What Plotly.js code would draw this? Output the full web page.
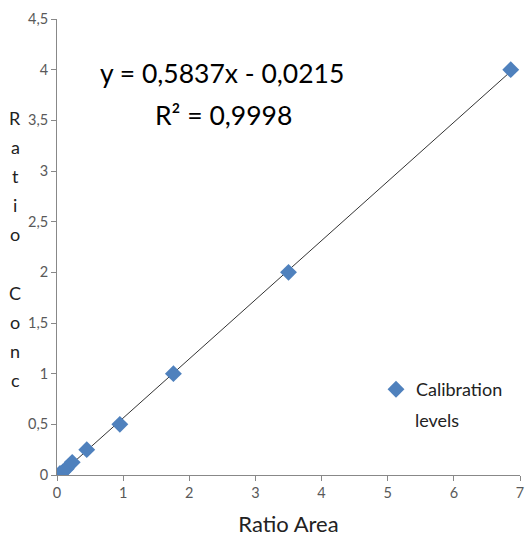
<!DOCTYPE html>
<html><head><meta charset="utf-8">
<script src="https://cdn.plot.ly/plotly-3.0.1.min.js"></script>
<style>html,body{margin:0;padding:0;background:#fff;}</style>
</head><body>
<div id="chart" style="width:525px;height:541px;"></div>
<script>
const ratioArea = [0.045, 0.09, 0.14, 0.23, 0.45, 0.95, 1.76, 3.50, 6.86];
const ratioConc = [0.0156, 0.03125, 0.0625, 0.125, 0.25, 0.5, 1, 2, 4];
const slope = 0.5837;
const intercept = -0.0215;
const trendX = [0.04, 6.92];
const trendY = trendX.map(x => slope * x + intercept);
const xTicks = [0, 1, 2, 3, 4, 5, 6, 7];
const yTicks = [0, 0.5, 1, 1.5, 2, 2.5, 3, 3.5, 4, 4.5];
const yTickText = ['0', '0,5', '1', '1,5', '2', '2,5', '3', '3,5', '4', '4,5'];
const yTitleLetters = ['R', 'a', 't', 'i', 'o', '', 'C', 'o', 'n', 'c'];
const equationText = 'y = 0,5837x - 0,0215';
const r2Text = 'R² = 0,9998';
const seriesName = 'Calibration';
const seriesName2 = 'levels';
const font = 'Lato, "Open Sans", sans-serif';

// plot area geometry (pixels)
const L = 57, T = 19, PW = 463, PH = 456;
const px = v => (v - L) / PW;
const py = v => (T + PH - v) / PH;

const traces = [
  {x: trendX, y: trendY, mode: 'lines', line: {color: '#333333', width: 1}, showlegend: false, hoverinfo: 'skip'},
  {x: ratioArea, y: ratioConc, mode: 'markers', name: seriesName,
   marker: {symbol: 'diamond', size: 13, color: '#4F81BD', line: {width: 0}}}
];

const annotations = [
  {xref: 'paper', yref: 'paper', x: px(222), y: py(73), text: equationText, showarrow: false,
   font: {size: 26.5, color: '#000', family: font}, xanchor: 'center', yanchor: 'middle'},
  {xref: 'paper', yref: 'paper', x: px(223), y: py(115), text: r2Text, showarrow: false,
   font: {size: 26.5, color: '#000', family: font}, xanchor: 'center', yanchor: 'middle'},
  {xref: 'paper', yref: 'paper', x: px(413), y: py(420), text: seriesName2, showarrow: false,
   font: {size: 18, color: '#222', family: font}, xanchor: 'left', yanchor: 'middle'}
];
yTitleLetters.forEach((ch, i) => {
  if (!ch) return;
  annotations.push({xref: 'paper', yref: 'paper', x: px(15), y: py(118 + i * 29.1), text: ch, showarrow: false,
    font: {size: 18, color: '#222', family: font}, xanchor: 'center', yanchor: 'middle'});
});

const layout = {
  width: 525, height: 541,
  margin: {l: L, r: 525 - L - PW, t: T, b: 541 - T - PH},
  paper_bgcolor: '#fff', plot_bgcolor: '#fff',
  font: {family: font, color: '#595959', size: 14.5},
  showlegend: true,
  legend: {x: px(376), y: py(371), xanchor: 'left', yanchor: 'top', valign: 'middle',
           font: {family: font, size: 18, color: '#222'}, bgcolor: 'rgba(0,0,0,0)', itemwidth: 30, tracegroupgap: 0},
  xaxis: {range: [0, 7], tickvals: xTicks, ticktext: xTicks.map(String), showgrid: false, zeroline: false,
          showline: true, linecolor: '#888', linewidth: 1, ticks: 'outside', ticklen: 5, tickcolor: '#888',
          tickfont: {size: 14.5, color: '#595959'},
          title: {text: 'Ratio Area', font: {size: 22, color: '#222', family: font}, standoff: 16}},
  yaxis: {range: [0, 4.5], tickvals: yTicks, ticktext: yTickText, showgrid: false, zeroline: false,
          showline: true, linecolor: '#888', linewidth: 1, ticks: 'outside', ticklen: 5, tickcolor: '#888',
          tickfont: {size: 14.5, color: '#595959'}},
  annotations: annotations
};

Plotly.newPlot('chart', traces, layout, {displayModeBar: false, staticPlot: true});
</script>
</body></html>
